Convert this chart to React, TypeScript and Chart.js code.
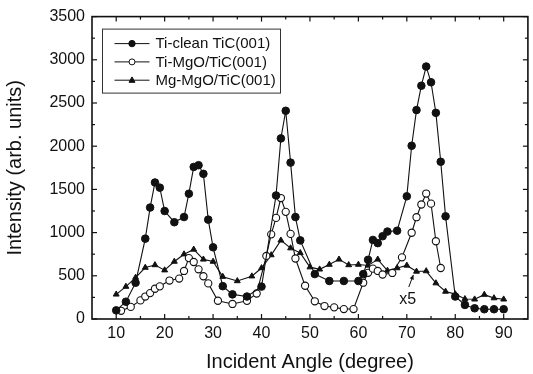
import React, { useEffect, useRef } from "react";
import { Chart, registerables } from "chart.js";

Chart.register(...registerables);

// ---- data ----
const tiCleanAngle = [10, 12, 14, 16, 17, 18, 19, 20, 22, 24, 25, 26, 27, 28, 29, 30, 32, 34, 37, 40, 43, 44, 45, 46, 47, 48, 51, 54, 57, 60, 61, 62, 63, 64, 65, 66, 68, 70, 71, 72, 73, 74, 75, 76, 77, 78, 80, 82, 84, 86, 88, 90];
const tiCleanIntensity = [100, 200, 420, 930, 1290, 1580, 1520, 1250, 1120, 1180, 1450, 1760, 1780, 1680, 1150, 830, 380, 285, 260, 375, 1430, 2090, 2410, 1810, 1180, 910, 520, 440, 440, 440, 520, 685, 915, 878, 958, 1012, 1022, 1420, 2005, 2418, 2700, 2922, 2740, 2386, 1820, 1188, 260, 163, 124, 113, 113, 113];

const tiMgOAngle = [11, 13, 15, 16, 17, 18, 19, 21, 23, 24, 25, 26, 27, 28, 29, 31, 34, 37, 39, 41, 42, 43, 44, 45, 46, 47, 49, 51, 53, 55, 57, 59, 61, 62, 63, 64, 65, 67, 69, 71, 72, 73, 74, 75, 76, 77];
const tiMgOIntensity = [95, 140, 215, 260, 300, 350, 378, 445, 468, 556, 705, 660, 575, 495, 412, 211, 174, 210, 295, 730, 980, 1170, 1400, 1240, 985, 700, 385, 205, 150, 135, 115, 115, 420, 535, 583, 556, 515, 533, 714, 998, 1178, 1325, 1452, 1335, 900, 590];

const mgMgOAngle = [10, 12, 14, 16, 18, 20, 22, 24, 26, 28, 30, 32, 35, 38, 40, 42, 44, 46, 48, 50, 52, 54, 56, 58, 60, 62, 64, 66, 68, 70, 72, 74, 76, 78, 80, 82, 84, 86, 88, 90];
const mgMgOIntensity = [285, 375, 480, 595, 625, 565, 665, 750, 805, 690, 665, 490, 440, 495, 590, 740, 910, 820, 765, 600, 575, 630, 690, 625, 630, 620, 690, 560, 590, 620, 550, 555, 415, 318, 288, 232, 228, 282, 242, 228];

const seriesLabels = ["Ti-clean TiC(001)", "Ti-MgO/TiC(001)", "Mg-MgO/TiC(001)"];
const xTickValues = [10, 20, 30, 40, 50, 60, 70, 80, 90];
const yTickValues = [0, 500, 1000, 1500, 2000, 2500, 3000, 3500];
const xTitle = "Incident Angle (degree)";
const yTitle = "Intensity (arb. units)";
const xRange = [5, 95];
const yRange = [0, 3500];

// annotation "x5" with arrow to the Mg-MgO curve (in data units)
const noteText = "x5";
const notePoint = { x: 70.2, y: 220 };
const noteArrowFrom = { x: 70.4, y: 370 };
const noteArrowTo = { x: 71.35, y: 510 };

const FONT = "'Liberation Sans', Arial, Helvetica, sans-serif";
const INK = "#111";

function drawMarker(ctx: CanvasRenderingContext2D, style: string, cx: number, cy: number, r: number, filled: boolean) {
  ctx.beginPath();
  if (style === "triangle") {
    ctx.moveTo(cx, cy - r * 1.1);
    ctx.lineTo(cx + r, cy + r * 0.7);
    ctx.lineTo(cx - r, cy + r * 0.7);
    ctx.closePath();
  } else {
    ctx.arc(cx, cy, r, 0, Math.PI * 2);
  }
  ctx.fillStyle = filled ? INK : "#fff";
  ctx.fill();
  ctx.strokeStyle = INK;
  ctx.lineWidth = 1;
  ctx.stroke();
}

const framePlugin = {
  id: "frameTicks",
  beforeDatasetsDraw(chart: any) {
    const { ctx, chartArea } = chart;
    const { left, right, top, bottom } = chartArea;
    const xs = chart.scales.x;
    const ys = chart.scales.y;
    ctx.save();
    ctx.strokeStyle = INK;
    ctx.lineWidth = 1.2;
    const xMinor: number[] = [];
    xTickValues.forEach((v) => xMinor.push(v - 5));
    xMinor.push(xTickValues[xTickValues.length - 1] + 5);
    const yMinor: number[] = [];
    yTickValues.forEach((v, i) => { if (i > 0) yMinor.push(v - 250); });
    const tick = (x1: number, y1: number, x2: number, y2: number) => {
      ctx.beginPath();
      ctx.moveTo(x1, y1);
      ctx.lineTo(x2, y2);
      ctx.stroke();
    };
    xTickValues.forEach((v) => {
      const p = xs.getPixelForValue(v);
      tick(p, bottom, p, bottom - 5);
      tick(p, top, p, top + 5);
    });
    xMinor.forEach((v) => {
      if (v <= xRange[0] || v >= xRange[1]) return;
      const p = xs.getPixelForValue(v);
      tick(p, bottom, p, bottom - 3);
      tick(p, top, p, top + 3);
    });
    yTickValues.forEach((v) => {
      const p = ys.getPixelForValue(v);
      tick(left, p, left + 5, p);
      tick(right, p, right - 5, p);
    });
    yMinor.forEach((v) => {
      const p = ys.getPixelForValue(v);
      tick(left, p, left + 3, p);
      tick(right, p, right - 3, p);
    });
    ctx.lineWidth = 1.6;
    ctx.strokeRect(left, top, right - left, bottom - top);
    ctx.restore();
  },
};

const legendPlugin = {
  id: "insetLegend",
  afterDraw(chart: any) {
    const { ctx, chartArea } = chart;
    const bx = chartArea.left + 10.5;
    const by = chartArea.top + 12.5;
    ctx.save();
    ctx.strokeStyle = "#333";
    ctx.lineWidth = 1;
    ctx.strokeRect(bx, by, 178, 64);
    const styles = ["circle", "circle", "triangle"];
    const fills = [true, false, true];
    const sizes = [3.2, 3, 3];
    chart.data.datasets.forEach((ds: any, i: number) => {
      const yy = by + 14.5 + i * 18.3;
      ctx.strokeStyle = INK;
      ctx.lineWidth = 1;
      ctx.beginPath();
      ctx.moveTo(bx + 12, yy);
      ctx.lineTo(bx + 47, yy);
      ctx.stroke();
      drawMarker(ctx, styles[i], bx + 29.5, yy, sizes[i], fills[i]);
      ctx.fillStyle = INK;
      ctx.font = `15px ${FONT}`;
      ctx.textAlign = "left";
      ctx.textBaseline = "middle";
      ctx.fillText(ds.label, bx + 53, yy + 0.5);
    });
    ctx.restore();
  },
};

const notePlugin = {
  id: "noteX5",
  afterDatasetsDraw(chart: any) {
    const { ctx } = chart;
    const xs = chart.scales.x;
    const ys = chart.scales.y;
    ctx.save();
    ctx.fillStyle = INK;
    ctx.font = `16px ${FONT}`;
    ctx.textAlign = "center";
    ctx.textBaseline = "middle";
    ctx.fillText(noteText, xs.getPixelForValue(notePoint.x), ys.getPixelForValue(notePoint.y));
    const x1 = xs.getPixelForValue(noteArrowFrom.x);
    const y1 = ys.getPixelForValue(noteArrowFrom.y);
    const x2 = xs.getPixelForValue(noteArrowTo.x);
    const y2 = ys.getPixelForValue(noteArrowTo.y);
    ctx.strokeStyle = INK;
    ctx.lineWidth = 1;
    ctx.beginPath();
    ctx.moveTo(x1, y1);
    ctx.lineTo(x2, y2);
    ctx.stroke();
    const ang = Math.atan2(y2 - y1, x2 - x1);
    const hl = 5;
    ctx.beginPath();
    ctx.moveTo(x2, y2);
    ctx.lineTo(x2 - hl * Math.cos(ang - 0.45), y2 - hl * Math.sin(ang - 0.45));
    ctx.lineTo(x2 - hl * Math.cos(ang + 0.45), y2 - hl * Math.sin(ang + 0.45));
    ctx.closePath();
    ctx.fill();
    ctx.restore();
  },
};

export default function App() {
  const canvasRef = useRef<HTMLCanvasElement | null>(null);

  useEffect(() => {
    document.body.style.margin = "0";
    const canvas = canvasRef.current;
    if (!canvas) return;
    const toPoints = (xs: number[], ys: number[]) => xs.map((x, i) => ({ x, y: ys[i] }));
    const chart = new Chart(canvas, {
      type: "line",
      data: {
        datasets: [
          {
            label: seriesLabels[0],
            data: toPoints(tiCleanAngle, tiCleanIntensity),
            borderColor: INK,
            borderWidth: 1.1,
            pointStyle: "circle",
            pointRadius: 3.8,
            pointBackgroundColor: INK,
            pointBorderColor: INK,
            pointBorderWidth: 1,
            tension: 0,
            fill: false,
          },
          {
            label: seriesLabels[1],
            data: toPoints(tiMgOAngle, tiMgOIntensity),
            borderColor: INK,
            borderWidth: 1.1,
            pointStyle: "circle",
            pointRadius: 3.6,
            pointBackgroundColor: "#fff",
            pointBorderColor: INK,
            pointBorderWidth: 1.1,
            tension: 0,
            fill: false,
          },
          {
            label: seriesLabels[2],
            data: toPoints(mgMgOAngle, mgMgOIntensity),
            borderColor: INK,
            borderWidth: 1.1,
            pointStyle: "triangle",
            pointRadius: 3.4,
            pointBackgroundColor: INK,
            pointBorderColor: INK,
            pointBorderWidth: 1,
            tension: 0,
            fill: false,
          },
        ],
      },
      options: {
        responsive: false,
        maintainAspectRatio: false,
        animation: false,
        events: [],
        layout: { padding: { left: 0, right: 3, top: 15, bottom: 0 } },
        plugins: { legend: { display: false }, tooltip: { enabled: false } },
        scales: {
          x: {
            type: "linear",
            min: xRange[0],
            max: xRange[1],
            grid: { display: false, drawTicks: false },
            border: { display: false },
            afterBuildTicks: (s: any) => {
              s.ticks = xTickValues.map((v) => ({ value: v }));
            },
            afterFit: (s: any) => {
              s.height = 55;
            },
            ticks: {
              font: { family: FONT, size: 16 },
              color: INK,
              padding: 5,
              maxRotation: 0,
              autoSkip: false,
              callback: (v: any) => String(v),
            },
            title: {
              display: true,
              text: xTitle,
              font: { family: FONT, size: 20, lineHeight: 1.2 },
              color: INK,
              padding: { top: 0, bottom: 0 },
            },
          },
          y: {
            type: "linear",
            min: yRange[0],
            max: yRange[1],
            grid: { display: false, drawTicks: false },
            border: { display: false },
            afterBuildTicks: (s: any) => {
              s.ticks = yTickValues.map((v) => ({ value: v }));
            },
            afterFit: (s: any) => {
              s.width = 92;
            },
            ticks: {
              font: { family: FONT, size: 16 },
              color: INK,
              padding: 7,
              autoSkip: false,
              callback: (v: any) => String(v),
            },
            title: {
              display: true,
              text: yTitle,
              font: { family: FONT, size: 20, lineHeight: 1.2 },
              color: INK,
              padding: { top: 3, bottom: 0 },
            },
          },
        },
      },
      plugins: [framePlugin, legendPlugin, notePlugin],
    } as any);
    return () => chart.destroy();
  }, []);

  return (
    <div style={{ position: "fixed", left: 0, top: 0, width: 533, height: 374, background: "#fff" }}>
      <canvas ref={canvasRef} width={533} height={374} style={{ display: "block", width: 533, height: 374 }} />
    </div>
  );
}
